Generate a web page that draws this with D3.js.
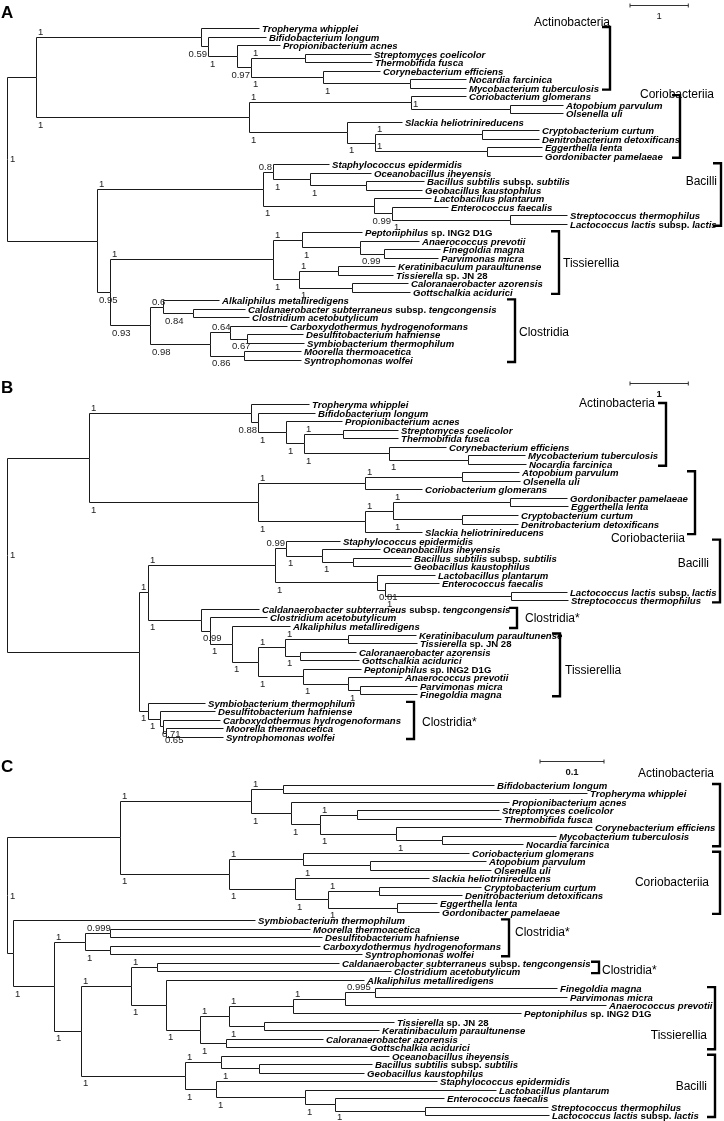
<!DOCTYPE html>
<html>
<head>
<meta charset="utf-8">
<script src="https://cdn.jsdelivr.net/npm/d3@7"></script>
<style>
    body { margin: 0; background: #fff; }
    svg { display: block; filter: grayscale(100%); }
    .tip { font: italic bold 9.6px "Liberation Sans", Arial, sans-serif; fill: #000; white-space: pre; }
    .tip .up { font-style: normal; }
    .support { font: 9.5px "Liberation Sans", Arial, sans-serif; fill: #222; }
    .clade { font: 12px "Liberation Sans", Arial, sans-serif; fill: #000; }
    .panel-letter { font: bold 17px "Liberation Sans", Arial, sans-serif; fill: #000; }
    .scale-label { font: 9.5px "Liberation Sans", Arial, sans-serif; fill: #111; }
    .branch { fill: none; stroke: #1a1a1a; stroke-width: 1; }
    .bracket { fill: none; stroke: #000; stroke-width: 2.4; }
    .scalebar { fill: none; stroke: #333; stroke-width: 1; }
</style>
</head>
<body>
<svg id="figure" width="724" height="1121"></svg>
<script>
/* jshint esversion: 6 */

// #############################################################################
// taxa: short code used inside the trees -> printed name
var taxonCodes = ["Tw", "Bl", "Pa", "Sc", "Tf", "Ce", "Nf", "Mt",
                  "Cg", "Ap", "Ou", "Sh", "Cc", "Dd", "El", "Gp",
                  "Se", "Oi", "Bs", "Gk", "Lp", "Ef", "St", "Ll",
                  "Pi", "Anp", "Fm", "Pm", "Kp", "Ts", "Ca", "Ga",
                  "Am", "Cs", "Cac", "Ch", "Dh", "Sth", "Mth", "Sw"];
var taxonNames = ["Tropheryma whipplei", "Bifidobacterium longum", "Propionibacterium acnes",
                  "Streptomyces coelicolor", "Thermobifida fusca", "Corynebacterium efficiens",
                  "Nocardia farcinica", "Mycobacterium tuberculosis",
                  "Coriobacterium glomerans", "Atopobium parvulum", "Olsenella uli",
                  "Slackia heliotrinireducens", "Cryptobacterium curtum", "Denitrobacterium detoxificans",
                  "Eggerthella lenta", "Gordonibacter pamelaeae",
                  "Staphylococcus epidermidis", "Oceanobacillus iheyensis", "Bacillus subtilis subsp. subtilis",
                  "Geobacillus kaustophilus", "Lactobacillus plantarum", "Enterococcus faecalis",
                  "Streptococcus thermophilus", "Lactococcus lactis subsp. lactis",
                  "Peptoniphilus sp. ING2 D1G", "Anaerococcus prevotii", "Finegoldia magna",
                  "Parvimonas micra", "Keratinibaculum paraultunense", "Tissierella sp. JN 28",
                  "Caloranaerobacter azorensis", "Gottschalkia acidurici",
                  "Alkaliphilus metalliredigens", "Caldanaerobacter subterraneus subsp. tengcongensis",
                  "Clostridium acetobutylicum", "Carboxydothermus hydrogenoformans",
                  "Desulfitobacterium hafniense", "Symbiobacterium thermophilum",
                  "Moorella thermoacetica", "Syntrophomonas wolfei"];

// trees (newick: support values after ")" and branch lengths after ":")
var treeA = "((" +
    "(Tw:0.995,(Bl:0.995,(Pa:0.738,((Sc:1.132,Tf:1.149)1:0.926,(Ce:0.978,(Nf:0.961,Mt:0.961)1:1.492)1:1.235)0.97:0.240)1:0.497)0.59:0.120)1:2.830," +
    "((Cg:0.943,(Ap:0.909,Ou:0.909)1:1.698)1:2.779,(Sh:0.943,((Cc:0.978,Dd:0.978)1:1.835,(El:0.943,Gp:0.943)1:1.921)1:0.480)1:1.681)1:3.654" +
    "):0.497,(" +
    "((Se:0.961,(Oi:1.046,(Bs:0.995,Gk:0.961)1:0.961)1:0.635)0.8:0.172,(Lp:0.978,(Ef:0.961,(St:0.978,Ll:0.978)1:2.024)0.99:0.309)1:1.904)1:2.847," +
    "(((Pi:1.029,(Anp:1.012,(Fm:0.961,Pm:0.926)0.99:0.412)1:0.995)1:0.497,((Kp:0.978,Ts:0.943)1:0.669,(Ca:0.961,Ga:0.995)1:0.909)1:0.446)1:2.796," +
    "((Am:0.961,(Cs:0.892,Cac:0.961)0.84:0.515)0.6:0.223,((Ch:0.978,(Dh:0.961,Sth:0.978)0.67:0.292)0.64:0.343,(Mth:0.978,Sw:0.978)0.86:0.583)0.98:1.029)0.93:0.686)0.95:0.223" +
    "):1.544)1;";

var treeB = "((" +
    "(Tw:0.995,(Bl:0.978,(Pa:0.961,((Sc:0.943,Tf:0.943)1:0.669,(Ce:0.978,(Mt:0.978,Nf:0.995)1:1.355)1:1.458)1:0.309)1:0.480)0.88:0.120)1:2.779," +
    "(((Ap:0.978,Ou:0.995)1:1.664,Cg:0.978)1:1.835,(((Gp:0.978,El:0.995)1:2.007,(Cc:0.961,Dd:0.961)1:1.184)1:0.480,Sh:0.978)1:1.835)1:2.899" +
    "):1.407,(" +
    "(((Se:0.926,(Oi:0.995,(Bs:0.995,Gk:0.995)1:0.532)1:0.617)0.99:0.189,(Lp:0.995,(Ef:0.926,(Ll:0.961,St:0.978)1:2.161)0.81:0.137)1:1.750)1:2.178," +
    "(Cs:0.995,(Cac:0.978,(Am:0.995,(((Kp:1.166,Ts:1.184)1:1.081,(Ca:0.961,Ga:1.012)1:0.257)1:0.463," +
    "(Pi:0.995,(Anp:0.926,(Pm:0.978,Fm:0.978)1:0.206)1:0.772)1:0.772)1:0.446)1:0.377)0.99:0.154)1:0.909)1:0.154," +
    "(Sth:0.978,(Dh:0.943,(Ch:0.978,(Mth:0.978,Sw:0.978)0.65:0.051)0.71:0.051)1:0.206)1:0.154" +
    "):2.264)1;";

var treeC = "((" +
    "((Bl:0.3297,Tw:0.4750)1:0.0500,(Pa:0.3406,((Sc:0.2219,Tf:0.2250)1:0.0578,(Ce:0.3063,(Mt:0.1781,Nf:0.1266)1:0.0719)1:0.1188)1:0.0453)1:0.0625)1:0.2047," +
    "((Cg:0.2594,(Ap:0.1813,Ou:0.1891)1:0.1047)1:0.1156,(Sh:0.2094,((Cc:0.1594,Dd:0.1297)1:0.0797,(El:0.0625,Gp:0.0656)1:0.1078)1:0.0516)1:0.1031)1:0.1703" +
    "):0.1766,(Sth:0.3781,(" +
    "((Mth:0.3125,Dh:0.3313)0.999:0.0391,(Ch:0.3281,Sw:0.3938)1:0.0391)1:0.0484," +
    "(((Cs:0.2844,Cac:0.3656)1:0.0406,(Am:0.3094,(((((Fm:0.2844,Pm:0.3000)0.995:0.0469,Anp:0.4078)1:0.0813,Pi:0.3563)1:0.1000," +
    "(Ts:0.2031,Kp:0.1797)1:0.0547)1:0.0453,(Ca:0.1516,Ga:0.2203)1:0.0406)1:0.0531)1:0.0547)1:0.0781," +
    "((Oi:0.2625,(Bs:0.1766,Gk:0.1641)1:0.0594)1:0.0563,(Se:0.3453,(Lp:0.2984,(Ef:0.1703,(St:0.1922,Ll:0.1938)1:0.1406)1:0.0469)1:0.1391)1:0.0484)1:0.1625)1:0.0422" +
    ")1:0.0641):0.0094)1;";

// clade brackets: name and first / last taxon
var cladeNamesA = ["Actinobacteria", "Coriobacteriia", "Bacilli", "Tissierellia", "Clostridia"];
var cladeSpansA = [["Tw", "Mt"], ["Cg", "Gp"], ["Se", "Ll"], ["Pi", "Ga"], ["Am", "Sw"]];
var cladeNamesB = ["Actinobacteria", "Coriobacteriia", "Bacilli", "Clostridia*", "Tissierellia", "Clostridia*"];
var cladeSpansB = [["Tw", "Nf"], ["Ap", "Sh"], ["Se", "St"], ["Cs", "Am"], ["Kp", "Fm"], ["Sth", "Sw"]];
var cladeNamesC = ["Actinobacteria", "Coriobacteriia", "Clostridia*", "Clostridia*", "Tissierellia", "Bacilli"];
var cladeSpansC = [["Bl", "Nf"], ["Cg", "Gp"], ["Sth", "Sw"], ["Cs", "Cac"], ["Fm", "Ga"], ["Oi", "Ll"]];

// scale bars
var scaleBarValues = [1, 1, 0.1];
var scaleBarLabels = ["1", "1", "0.1"];
// #############################################################################

(function()
{
    "use strict";

    var W = 724, H = 1121;

    var taxonName = {};
    taxonCodes.forEach(function(c, i) { taxonName[c] = taxonNames[i]; });

    // layout of the three panels (barPx = pixel length of the scale bar value)
    var panels = [
        { letter: "A", tree: treeA, names: cladeNamesA, spans: cladeSpansA,
          top: 28, bottom: 360, x0: 7, barPx: 58.3, letterY: 18,
          bar: { x: 630, y: 5, bold: false },
          brackets: [ { x: 610, dx: 0,  anchor: "end",    f: -0.08 },
                      { x: 680, dx: -3, anchor: "middle", f: -0.03 },
                      { x: 721, dx: -4, anchor: "end",    f: 0.28 },
                      { x: 559, dx: 4,  anchor: "start",  f: 0.5 },
                      { x: 515, dx: 4,  anchor: "start",  f: 0.52 } ],
          labelModes: { "Bl..Mt": "flushBelow", "Sc..Mt": "flushBelow", "Se..Gk": "flushAbove",
                        "Ap..Ou": "above", "El..Gp": "above", "Ef..Ll": "flushBelow" } },
        { letter: "B", tree: treeB, names: cladeNamesB, spans: cladeSpansB,
          top: 404, bottom: 737, x0: 7, barPx: 58.3, letterY: 393,
          bar: { x: 630, y: 383, bold: true },
          brackets: [ { x: 666, dx: -11, anchor: "end",   f: 0 },
                      { x: 695, dx: -10, anchor: "end",   f: 1.05 },
                      { x: 720, dx: -11, anchor: "end",   f: 0.37 },
                      { x: 517, dx: 8,   anchor: "start", f: 0.5 },
                      { x: 560, dx: 5,   anchor: "start", f: 0.58 },
                      { x: 414, dx: 8,   anchor: "start", f: 0.54 } ],
          labelModes: { "Bl..Nf": "flushBelow", "Se..Gk": "flushAbove" } },
        { letter: "C", tree: treeC, names: cladeNamesC, spans: cladeSpansC,
          top: 785, bottom: 1115, x0: 7, barPx: 64, letterY: 772,
          bar: { x: 540, y: 761, bold: true },
          brackets: [ { x: 720, dx: -6,  anchor: "end",   f: -0.18 },
                      { x: 720, dx: -11, anchor: "end",   f: 0.49 },
                      { x: 509, dx: 6,   anchor: "start", f: 0.34 },
                      { x: 599, dx: 3,   anchor: "start", f: 0.72 },
                      { x: 715, dx: -8,  anchor: "end",   f: 0.77 },
                      { x: 715, dx: -8,  anchor: "end",   f: 0.49 } ],
          labelModes: {} }
    ];

    // #########################################################################
    function parseNewick(s)
    {
        s = s.replace(/\s+/g, "");
        var i = 0;

        function token() {
            var start = i;
            while (i < s.length && ",():;".indexOf(s[i]) < 0) i++;
            return s.slice(start, i);
        }

        function node() {
            var n = {};
            if (s[i] === "(") {
                n.children = [];
                i++;
                n.children.push(node());
                while (s[i] === ",") { i++; n.children.push(node()); }
                i++;   // ")"
                var lab = token();
                if (lab) n.support = lab;
            } else {
                n.code = token();
            }
            if (s[i] === ":") { i++; n.length = +token(); }
            else n.length = 0;
            return n;
        }

        return node();
    }

    // italic name with upright "subsp." / "sp. ..." parts
    function nameParts(name)
    {
        var m = name.match(/^(.*?)( subsp\. )(.*)$/);
        if (m) return [{ t: m[1], up: false }, { t: m[2], up: true }, { t: m[3], up: false }];
        m = name.match(/^(.*?)( sp\. .*)$/);
        if (m) return [{ t: m[1], up: false }, { t: m[2], up: true }];
        return [{ t: name, up: false }];
    }

    var crisp = function(v) { return Math.round(v) + 0.5; };

    var svg = d3.select("#figure");
    svg.append("rect").attr("width", W).attr("height", H).attr("fill", "#fff");

    // #########################################################################
    panels.forEach(function(p, pi)
    {
        var g = svg.append("g").attr("class", "panel");

        var root = d3.hierarchy(parseNewick(p.tree));
        root.eachBefore(function(d) { d.dist = d.parent ? d.parent.dist + d.data.length : 0; });

        var leaves = root.leaves();
        var leafByCode = {};
        leaves.forEach(function(d, i) { d.row = i; leafByCode[d.data.code] = d; });
        root.eachAfter(function(d) {
            if (d.children) d.row = (d.children[0].row + d.children[d.children.length - 1].row) / 2;
        });

        var unit = scaleBarValues[pi];
        var xScale = d3.scaleLinear().domain([0, unit]).range([p.x0, p.x0 + p.barPx]);
        var yScale = d3.scaleLinear().domain([0, leaves.length - 1]).range([p.top, p.bottom]);
        var X = function(d) { return xScale(d.dist); };
        var Y = function(d) { return yScale(d.row); };

        // branches
        g.selectAll("path.branch")
         .data(root.links())
         .join("path")
            .attr("class", "branch")
            .attr("d", function(l) {
                return "M" + crisp(X(l.source)) + "," + crisp(Y(l.source)) +
                       "V" + crisp(Y(l.target)) + "H" + crisp(X(l.target));
            });

        // tip names
        g.selectAll("text.tip")
         .data(leaves)
         .join("text")
            .attr("class", "tip")
            .attr("x", function(d) { return X(d) + 3; })
            .attr("y", function(d) { return Y(d) + 4; })
            .each(function(d) {
                d3.select(this).selectAll("tspan")
                  .data(nameParts(taxonName[d.data.code]))
                  .join("tspan")
                    .attr("class", function(q) { return q.up ? "up" : null; })
                    .text(function(q) { return q.t; });
            });

        // support values
        var supportPos = function(d) {
            if (!d.parent) return { x: X(d) + 3, y: Y(d) + 3.5, anchor: "start" };
            var lv = d.leaves();
            var key = lv[0].data.code + ".." + lv[lv.length - 1].data.code;
            var upper = d.parent.children[0] === d;
            var mode = p.labelModes[key] || (upper ? "above" : "below");
            var flush = mode.indexOf("flush") === 0;
            var below = (mode === "below" || mode === "flushBelow");
            return { x: flush ? X(d) - 1 : X(d.parent) + 2,
                     y: Math.min(H - 1.5, Y(d) + (below ? 10.5 : -2)),
                     anchor: flush ? "end" : "start" };
        };

        g.selectAll("text.support")
         .data(root.descendants().filter(function(d) { return d.children && d.data.support; }))
         .join("text")
            .attr("class", "support")
            .each(function(d) {
                var pos = supportPos(d);
                d3.select(this).attr("x", pos.x).attr("y", pos.y).attr("text-anchor", pos.anchor);
            })
            .text(function(d) { return d.data.support; });

        // clade brackets
        p.names.forEach(function(name, i) {
            var span = p.spans[i], b = p.brackets[i];
            var top = Y(leafByCode[span[0]]) - 1;
            var bot = Y(leafByCode[span[1]]) + 2;
            g.append("path")
             .attr("class", "bracket")
             .attr("d", "M" + (b.x - 8) + "," + top + "H" + b.x + "V" + bot + "H" + (b.x - 8));
            g.append("text")
             .attr("class", "clade")
             .attr("x", b.x + b.dx)
             .attr("y", top + b.f * (bot - top) + 4.3)
             .attr("text-anchor", b.anchor)
             .text(name);
        });

        // scale bar
        var bx1 = p.bar.x, bx2 = p.bar.x + (xScale(unit) - xScale(0)), by = p.bar.y + 0.5;
        g.append("path")
         .attr("class", "scalebar")
         .attr("d", "M" + bx1 + "," + (by - 2) + "V" + (by + 2) +
                    "M" + bx1 + "," + by + "H" + bx2 +
                    "M" + bx2 + "," + (by - 2) + "V" + (by + 2));
        g.append("text")
         .attr("class", "scale-label")
         .attr("x", (bx1 + bx2) / 2)
         .attr("y", by + 13)
         .attr("text-anchor", "middle")
         .style("font-weight", p.bar.bold ? "bold" : null)
         .text(scaleBarLabels[pi]);

        // panel letter
        g.append("text")
         .attr("class", "panel-letter")
         .attr("x", 1)
         .attr("y", p.letterY)
         .text(p.letter);
    });
}
)();
// #############################################################################
</script>
</body>
</html>
